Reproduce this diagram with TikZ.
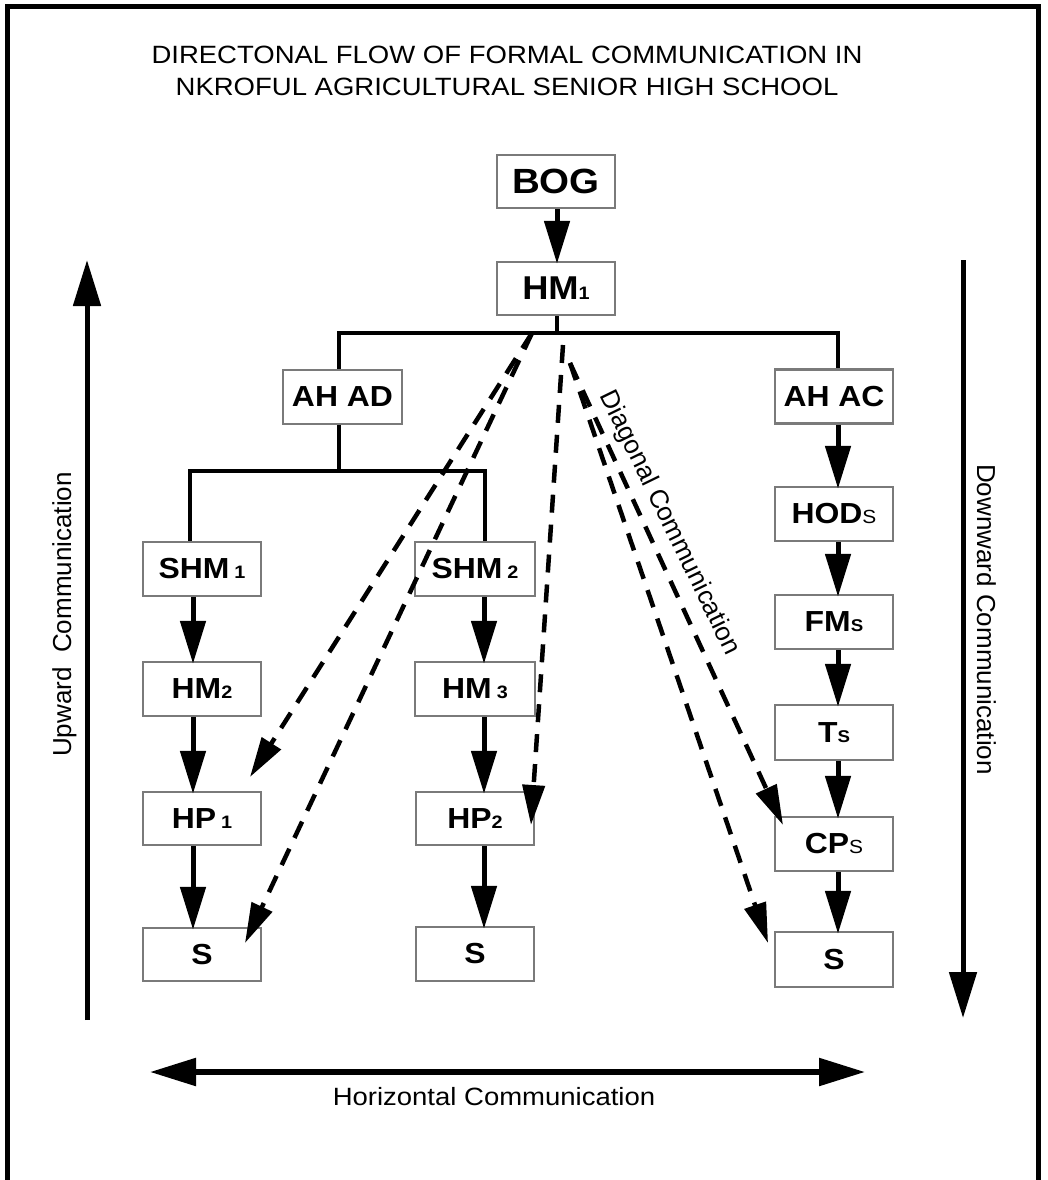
\documentclass[tikz,border=0pt]{standalone}
\usepackage{fontspec}
\setmainfont{Liberation Sans}[FakeStretch=1.1]
\newfontfamily\rotfont{Liberation Sans}
\usetikzlibrary{arrows.meta,calc}
\definecolor{boxgray}{gray}{0.48}
\newcommand{\mydig}[1]{{\fontsize{18}{18}\selectfont\bfseries #1}}
\newcommand{\mysubs}{{\fontsize{19}{19}\selectfont\mdseries S}}
\newcommand{\mysubb}{{\fontsize{17}{17}\selectfont\bfseries S}}
\begin{document}
\begin{tikzpicture}[x=1pt,y=-1pt,
  box/.style={draw=boxgray,line width=2.5pt,minimum width=118pt,minimum height=54pt,inner sep=0pt,
    font=\fontsize{29}{29}\selectfont\bfseries},
  bigbox/.style={box,minimum height=53pt,font=\fontsize{33}{33}\selectfont\bfseries},
  tree/.style={line width=4.5pt,line join=miter},
  arr/.style={line width=5pt,-{Triangle[length=43pt,width=25pt]},shorten >=-3pt},
  darr/.style={line width=4.5pt,dash pattern=on 18pt off 12pt,-{Triangle[length=40pt,width=22pt]}},
  commarr/.style={line width=5pt,-{Triangle[length=46pt,width=27pt]}},
  lbl/.style={inner sep=0pt,font=\fontsize{25}{25}\selectfont},
  rlbl/.style={inner sep=0pt,font=\rotfont\fontsize{26}{26}\selectfont}]
\useasboundingbox (0,0) rectangle (1047,1180);
% frame
\draw[line width=5pt,line join=miter] (7,1185) -- (7,7) -- (1038,7) -- (1038,1185);
% title
\node[lbl,anchor=base] (t1) at (507,64) {DIRECTONAL FLOW OF FORMAL COMMUNICATION IN};
\node[lbl,anchor=base] (t2) at (507,96) {NKROFUL AGRICULTURAL SENIOR HIGH SCHOOL};
% boxes
\node[bigbox,font=\fontsize{35}{35}\selectfont\bfseries] (bog) at (556,181.5) {BOG};
\node[bigbox] (hm1) at (556,288.5) {HM\mydig{1}};
\node[box,minimum width=119pt] (ahad) at (342.5,397) {AH AD};
\node[box] (ahac) at (834,396.5) {AH AC};
\node[box] (shm1) at (202,569) {SHM\kern5pt\mydig{1}};
\node[box] (hm2) at (202,689) {HM\mydig{2}};
\node[box,minimum height=53pt] (hp1) at (202,818.5) {HP\kern5pt\mydig{1}};
\node[box,minimum height=53pt] (s1) at (202,954.5) {S};
\node[box,minimum width=120pt] (shm2) at (475,569) {SHM\kern5pt\mydig{2}};
\node[box,minimum width=120pt] (hm3) at (475,689) {HM\kern5pt\mydig{3}};
\node[box,minimum height=53pt] (hp2) at (475,818.5) {HP\mydig{2}};
\node[box] (s2) at (475,954) {S};
\node[box] (hods) at (834,514) {HOD\mysubs};
\node[box] (fms) at (834,622) {FM\mysubb};
\node[box,minimum height=55pt] (ts) at (834,732.5) {T\mysubb};
\node[box] (cps) at (834,844) {CP\mysubs};
\node[box,minimum height=55pt] (s3) at (834,959.5) {S};
% column coordinates
\coordinate (cM) at (557,0);
\coordinate (cL) at (193,0);
\coordinate (cC) at (484,0);
\coordinate (cR) at (838,0);
\coordinate (barL) at (339,333);
\coordinate (barR) at (838,333);
\coordinate (barM) at (557,333);
\coordinate (bar2L) at (190,471);
\coordinate (bar2R) at (485,471);
\coordinate (bar2M) at (339,471);
% tree
\draw[arr] (bog.south -| cM) -- (hm1.north -| cM);
\draw[tree] (hm1.south -| barM) -- (barM);
\draw[tree] (ahad.north -| barL) -- (barL) -- (barR) -- (ahac.north -| barR);
\draw[tree] (ahad.south -| bar2M) -- (bar2M);
\draw[tree] (shm1.north -| bar2L) -- (bar2L) -- (bar2R) -- (shm2.north -| bar2R);
% column arrows
\draw[arr] (shm1.south -| cL) -- (hm2.north -| cL);
\draw[arr] (hm2.south -| cL) -- (hp1.north -| cL);
\draw[arr] (hp1.south -| cL) -- (s1.north -| cL);
\draw[arr] (shm2.south -| cC) -- (hm3.north -| cC);
\draw[arr] (hm3.south -| cC) -- (hp2.north -| cC);
\draw[arr] (hp2.south -| cC) -- (s2.north -| cC);
\draw[arr] (ahac.south -| cR) -- (hods.north -| cR);
\draw[arr] (hods.south -| cR) -- (fms.north -| cR);
\draw[arr] (fms.south -| cR) -- (ts.north -| cR);
\draw[arr] (ts.south -| cR) -- (cps.north -| cR);
\draw[arr] (cps.south -| cR) -- (s3.north -| cR);
% diagonal (dashed) arrows
\coordinate (dA) at (532,333);
\coordinate (dC) at (563,345);
\coordinate (dD) at (570,363);
\coordinate (tA) at (250,777);
\coordinate (tB) at (245,943);
\coordinate (tC) at (531,825);
\coordinate (tD) at (783,825);
\coordinate (tE) at (768,943);
\draw[darr] (dA) -- (tA);
\draw[darr] (dA) -- (tB);
\draw[darr] (dC) -- (tC);
\draw[darr] (dD) -- (tD);
\draw[darr] (dD) -- (tE);
\node[rlbl,rotate=-64] (diag) at (669,523) {Diagonal Communication};
% communication arrows
\coordinate (upB) at (87,1020);
\coordinate (upT) at (87,260);
\coordinate (dnT) at (963,260);
\coordinate (dnB) at (963,1018);
\coordinate (hzL) at (150,1072);
\coordinate (hzR) at (865,1072);
\draw[commarr] (upB) -- (upT);
\draw[commarr] (dnT) -- (dnB);
\draw[line width=5.5pt,{Triangle[length=46pt,width=27pt]}-{Triangle[length=46pt,width=27pt]}] (hzL) -- (hzR);
\node[rlbl,rotate=90,anchor=base] (up) at (71,614.5) {Upward~ Communication};
\node[rlbl,rotate=-90,anchor=base] (dn) at (977,619.5) {Downward Communication};
\node[lbl,anchor=base] (hz) at (494,1105) {Horizontal Communication};
\end{tikzpicture}
\end{document}
